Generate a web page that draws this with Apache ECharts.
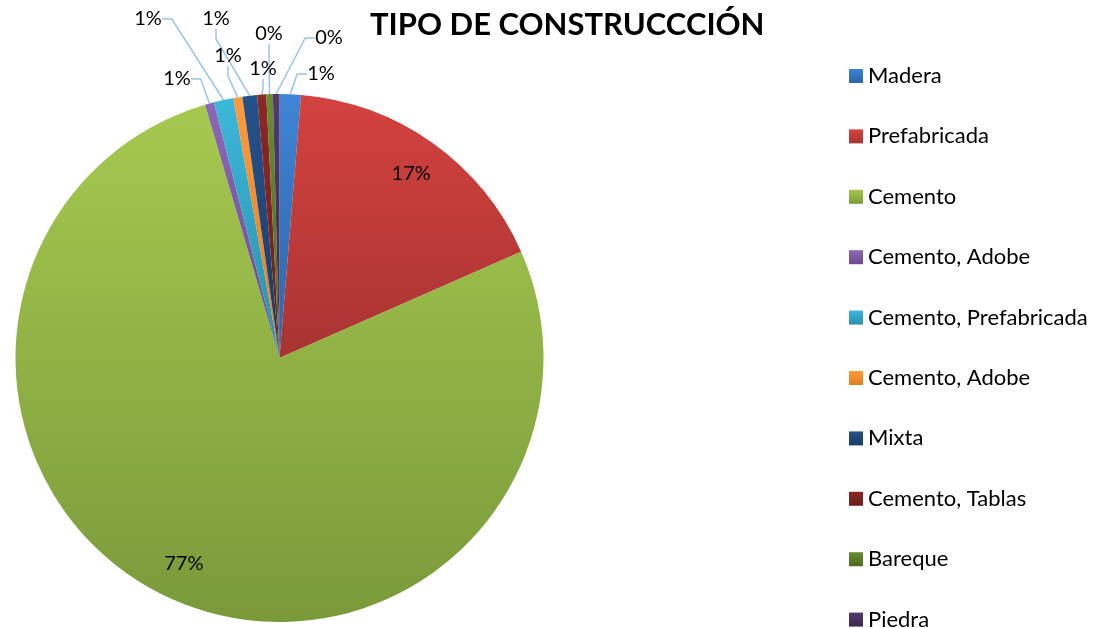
<!DOCTYPE html>
<html>
<head>
<meta charset="utf-8">
<title>Tipo de construcción</title>
<script src="https://cdn.jsdelivr.net/npm/echarts@6/dist/echarts.min.js"></script>
<style>
    html, body { margin: 0; padding: 0; background: #fff; }
    #chart { width: 1096px; height: 628px; }
</style>
</head>
<body>
<div id="chart"></div>
<script>
// datos (porcentajes)
const categorias = [
    "Madera", "Prefabricada", "Cemento", "Cemento, Adobe", "Cemento, Prefabricada",
    "Cemento, Adobe", "Mixta", "Cemento, Tablas", "Bareque", "Piedra"
];
const valores = [1.3, 17.1, 77.05, 0.55, 1.2, 0.55, 0.9, 0.55, 0.4, 0.4];

// colores claro / oscuro para el degradado vertical
const coloresClaros = ["#3e84d6", "#d4423f", "#a5c94f", "#8b67b6", "#3cb7da", "#ff9a3a", "#25518a", "#8c2826", "#678d31", "#53396e"];
const coloresOscuros = ["#2c64a8", "#a83432", "#7a9a3a", "#6a4e90", "#2a8fab", "#e27c22", "#1a3c66", "#6a1d1b", "#4d6b22", "#3c2a52"];

// posición de las etiquetas externas (centro del texto), como en el original
const posEtiquetas = {
    0: [321, 74], 3: [177, 79], 4: [148, 19], 5: [228, 56],
    6: [216, 19], 7: [263, 69], 8: [269, 34], 9: [329, 38]
};
const internas = [1, 2];

const CX = 279.5, CY = 358, R = 264;
const total = valores.reduce((a, b) => a + b, 0);

function anguloMedio(i) {
    let s = 0;
    for (let j = 0; j < i; j++) s += valores[j];
    return (s + valores[i] / 2) / total * Math.PI * 2;
}

// la leyenda agrupa nombres iguales: se añade un espacio invisible a los repetidos
const vistos = {};
const datos = categorias.map((nombre, i) => {
    let n = nombre;
    while (vistos[n]) n += " ";
    vistos[n] = true;
    const dentro = internas.indexOf(i) >= 0;
    return {
        name: n,
        value: valores[i],
        itemStyle: {
            color: new echarts.graphic.LinearGradient(0, 0, 0, 1, [
                { offset: 0, color: coloresClaros[i] },
                { offset: 1, color: coloresOscuros[i] }
            ])
        },
        label: { position: dentro ? "inside" : "outside" },
        labelLine: { show: !dentro }
    };
});

const chart = echarts.init(document.getElementById("chart"));
chart.setOption({
    animation: false,
    title: {
        text: "TIPO DE CONSTRUCCCIÓN",
        left: 365,
        top: 4,
        textStyle: { fontFamily: "Lato", fontWeight: "bold", fontSize: 31, color: "#000" }
    },
    legend: {
        orient: "vertical",
        left: 844,
        top: 60,
        height: 640,
        itemWidth: 14,
        itemHeight: 14,
        itemGap: 38.4,
        icon: "rect",
        textStyle: { fontFamily: "Lato", fontSize: 22, color: "#000", lineHeight: 22 },
        data: datos.map((d) => d.name)
    },
    series: [
        {
            type: "pie",
            center: [CX, CY],
            radius: R,
            startAngle: 90,
            clockwise: true,
            avoidLabelOverlap: false,
            emphasis: { disabled: true },
            label: {
                fontFamily: "Lato",
                fontSize: 20,
                color: "#000",
                formatter: (p) => Math.round(p.value / total * 100) + "%"
            },
            labelLine: {
                length: 10,
                length2: 10,
                lineStyle: { color: "#9dc3e6", width: 1.5 }
            },
            labelLayout: function (p) {
                const i = p.dataIndex;
                if (internas.indexOf(i) >= 0) {
                    const a = anguloMedio(i);
                    return {
                        x: CX + 0.86 * R * Math.sin(a),
                        y: CY - 0.86 * R * Math.cos(a),
                        align: "center",
                        verticalAlign: "middle"
                    };
                }
                const pos = posEtiquetas[i];
                return { x: pos[0], y: pos[1], align: "center", verticalAlign: "middle" };
            },
            data: datos
        }
    ]
});
</script>
</body>
</html>
